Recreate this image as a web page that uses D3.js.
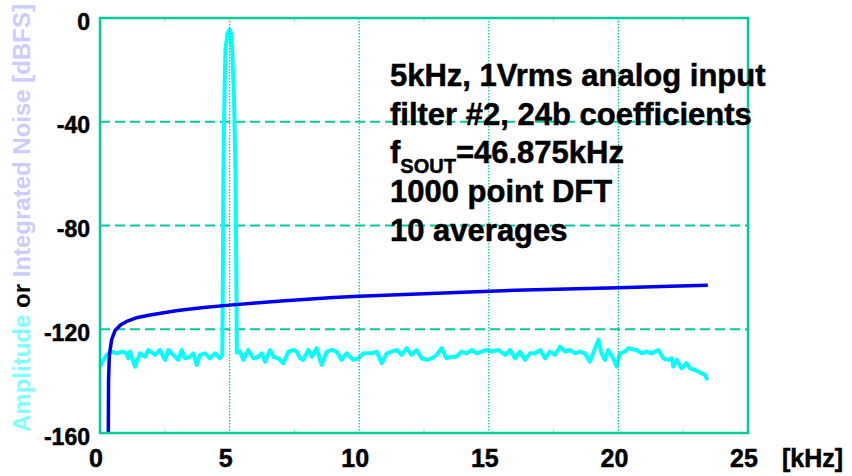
<!DOCTYPE html>
<html>
<head>
<meta charset="utf-8">
<script src="https://cdn.jsdelivr.net/npm/d3@7"></script>
<style>
  body { margin: 0; background: #fff; }
  svg { display: block; }
</style>
</head>
<body>
<script>
// x ticks [kHz] and y ticks [dBFS]
var xTicks = [0, 5, 10, 15, 20, 25],
    xMinor = [2.5, 7.5, 12.5, 17.5, 22.5],
    yTicks = [0, -40, -80, -120, -160],
    yGrid = [-40, -80, -120],
    xGrid = [5, 10, 15, 20];

// amplitude spectrum, [kHz, dBFS]
var noiseLow = [[0, -134.4], [0.13, -131.8], [0.26, -129.9], [0.45, -128.6], [0.64, -129.3], [0.84, -128.6],
    [1.03, -129.3], [1.09, -131.2], [1.16, -128.6], [1.35, -134.4], [1.54, -129.3], [1.74, -130.6],
    [1.86, -128.0], [2.12, -129.9], [2.31, -128.0], [2.51, -131.8], [2.64, -128.0], [2.83, -129.9],
    [3.02, -131.8], [3.15, -128.0], [3.28, -131.2], [3.47, -130.6], [3.6, -129.3], [3.73, -133.8],
    [3.86, -129.9], [4.05, -129.3], [4.24, -131.2], [4.44, -129.3], [4.63, -131.2], [4.72, -129.9]];

var peak = [[4.74, -100], [4.76, -60], [4.8, -31], [4.84, -12], [4.92, -6], [5.0, -4.5],
    [5.06, -6], [5.1, -12], [5.17, -31], [5.23, -60], [5.26, -100], [5.28, -129]];

var noiseHigh = [[5.4, -128.6], [5.53, -131.8], [5.72, -128.0], [5.92, -131.2], [6.11, -130.6], [6.24, -129.3],
    [6.37, -132.5], [6.56, -128.0], [6.69, -130.6], [6.88, -131.2], [7.07, -133.1], [7.27, -128.6],
    [7.46, -128.0], [7.59, -128.6], [7.72, -131.2], [7.84, -131.8], [8.04, -128.0], [8.17, -130.6],
    [8.36, -127.3], [8.55, -133.8], [8.75, -128.6], [8.94, -128.0], [9.13, -128.6], [9.32, -131.8],
    [9.52, -129.3], [9.77, -131.8], [9.97, -131.2], [10.16, -129.3], [10.48, -129.3], [10.67, -128.6],
    [10.87, -133.1], [11.06, -129.3], [11.25, -128.6], [11.45, -128.0], [11.64, -129.9], [11.83, -127.3],
    [12.02, -129.9], [12.22, -128.0], [12.41, -131.2], [12.6, -131.8], [12.8, -131.2], [12.99, -129.9],
    [13.18, -127.3], [13.37, -131.2], [13.57, -130.6], [13.76, -130.6], [13.95, -128.6], [14.15, -129.3],
    [14.34, -128.0], [14.53, -129.3], [14.72, -128.6], [14.92, -128.0], [15.11, -128.6], [15.37, -128.0],
    [15.63, -129.9], [15.82, -128.0], [16.01, -131.2], [16.2, -128.6], [16.4, -131.8], [16.59, -129.3],
    [16.78, -129.3], [16.98, -128.0], [17.17, -131.2], [17.36, -128.6], [17.55, -129.9], [17.75, -126.7],
    [17.94, -128.6], [18.13, -128.0], [18.33, -129.3], [18.52, -128.6], [18.71, -129.3], [18.9, -132.5],
    [19.1, -127.3], [19.23, -124.1], [19.35, -129.3], [19.48, -131.8], [19.61, -128.0], [19.8, -131.2],
    [19.93, -134.4], [20.06, -129.3], [20.25, -128.6], [20.38, -127.3], [20.7, -128.0], [20.9, -129.3],
    [21.09, -128.6], [21.28, -129.3], [21.54, -128.0], [21.73, -131.2], [21.93, -131.8], [22.06, -131.2],
    [22.12, -134.4], [22.25, -131.8], [22.44, -135.1], [22.63, -133.1], [22.76, -135.1], [22.96, -135.7],
    [23.08, -136.3], [23.21, -137.0], [23.34, -137.6], [23.43, -139.6]];

// integrated noise, [kHz, dBFS]
var integ = [[0.32, -160], [0.33, -140], [0.36, -130], [0.45, -124], [0.58, -120.5], [0.8, -118.3],
    [1.03, -117], [1.4, -115.6], [1.93, -114.5], [2.4, -113.7], [3.0, -112.8], [4.0, -111.6],
    [5.0, -110.7], [6.0, -109.9], [7.0, -109.1], [8.0, -108.4], [9.0, -107.8], [10.0, -107.3],
    [12.0, -106.5], [14.0, -105.7], [16.0, -105.0], [18.0, -104.5], [20.0, -104.0], [22.0, -103.4],
    [23.45, -103.0]];

var notes = ['5kHz, 1Vrms analog input', 'filter #2, 24b coefficients', 'f|SOUT|=46.875kHz',
    '1000 point DFT', '10 averages'];

var svgwidth = 852, svgheight = 476,
    margin = {top: 18, right: 104, bottom: 43, left: 100},
    width = svgwidth - margin.left - margin.right,
    height = svgheight - margin.top - margin.bottom,
    frameColor = '#00cc99';

var xscale = d3.scaleLinear().domain([0, 25]).range([margin.left, margin.left + width]);
var yscale = d3.scaleLinear().domain([-160, 0]).range([margin.top + height, margin.top]);

var svg = d3.select('body').append('svg')
    .attr('width', svgwidth)
    .attr('height', svgheight)
    .attr('font-family', 'Arial, Helvetica, sans-serif')
    .attr('font-weight', 'bold');

var line = d3.line()
    .x(function (d) { return xscale(d[0]); })
    .y(function (d) { return yscale(d[1]); });

// dashed horizontal grid
svg.append('g').selectAll('line')
    .data(yGrid).enter().append('line')
    .attr('x1', xscale(0)).attr('x2', xscale(25))
    .attr('y1', function (d) { return yscale(d); })
    .attr('y2', function (d) { return yscale(d); })
    .attr('stroke', frameColor)
    .attr('stroke-width', 1.8)
    .attr('stroke-dasharray', '10,5');

// amplitude trace
svg.append('path')
    .datum(noiseLow.concat(peak, noiseHigh))
    .attr('fill', 'none')
    .attr('stroke', '#00ffff')
    .attr('stroke-width', 4)
    .attr('stroke-linejoin', 'round')
    .attr('d', line);

// dotted vertical grid (sits over the cyan trace)
svg.append('g').selectAll('line')
    .data(xGrid).enter().append('line')
    .attr('x1', function (d) { return xscale(d); })
    .attr('x2', function (d) { return xscale(d); })
    .attr('y1', yscale(0)).attr('y2', yscale(-160))
    .attr('stroke', frameColor)
    .attr('stroke-width', 1.3)
    .attr('stroke-dasharray', '1.5,1.5');

// minor ticks top and bottom
var minor = svg.append('g');
minor.selectAll('.tt').data(xMinor).enter().append('line')
    .attr('x1', function (d) { return xscale(d); })
    .attr('x2', function (d) { return xscale(d); })
    .attr('y1', yscale(0)).attr('y2', yscale(0) + 4)
    .attr('stroke', '#99e6cc').attr('stroke-width', 1);
minor.selectAll('.tb').data(xMinor).enter().append('line')
    .attr('x1', function (d) { return xscale(d); })
    .attr('x2', function (d) { return xscale(d); })
    .attr('y1', yscale(-160)).attr('y2', yscale(-160) - 4)
    .attr('stroke', '#99e6cc').attr('stroke-width', 1);

// integrated noise trace
svg.append('path')
    .datum(integ)
    .attr('fill', 'none')
    .attr('stroke', '#0000ee')
    .attr('stroke-width', 3.5)
    .attr('stroke-linejoin', 'round')
    .attr('d', line);

// frame
svg.append('rect')
    .attr('x', xscale(0)).attr('y', yscale(0))
    .attr('width', width).attr('height', height)
    .attr('fill', 'none')
    .attr('stroke', frameColor)
    .attr('stroke-width', 2.5);

// black texts get a hairline stroke so they look as heavy as the original
var labels = svg.append('g')
    .attr('fill', '#000')
    .attr('stroke', '#000')
    .attr('stroke-width', 0.5);

// y tick labels
labels.append('g').selectAll('text')
    .data(yTicks).enter().append('text')
    .attr('x', margin.left - 10)
    .attr('y', function (d) { return yscale(d) + 11.5; })
    .attr('text-anchor', 'end')
    .attr('font-size', '23px')
    .text(function (d) { return d; });

// x tick labels
labels.append('g').selectAll('text')
    .data(xTicks).enter().append('text')
    .attr('x', function (d) { return xscale(d) - 4; })
    .attr('y', 467)
    .attr('text-anchor', 'middle')
    .attr('font-size', '25px')
    .text(function (d) { return d; });

labels.append('text')
    .attr('x', 782).attr('y', 467)
    .attr('font-size', '25px')
    .text('[kHz]');

// y axis title, three colours
var ytitle = svg.append('text')
    .attr('text-anchor', 'middle')
    .attr('font-size', '24px')
    .attr('transform', 'translate(30, 218) rotate(-90)');
ytitle.append('tspan').attr('fill', '#80ffff').text('Amplitude ');
ytitle.append('tspan').attr('fill', '#000').text('or ');
ytitle.append('tspan').attr('fill', '#ccccff').text('Integrated Noise [dBFS]');

// annotation block
var noteg = labels.append('g').attr('font-size', '31px');
notes.forEach(function (s, i) {
    var t = noteg.append('text').attr('x', 390).attr('y', 86 + i * 38.7);
    var parts = s.split('|');
    t.append('tspan').text(parts[0]);
    if (parts.length > 1) {
        t.append('tspan').attr('font-size', '20px').attr('dy', 10).text(parts[1]);
        t.append('tspan').attr('dy', -10).text(parts[2]);
    }
});
</script>
</body>
</html>
